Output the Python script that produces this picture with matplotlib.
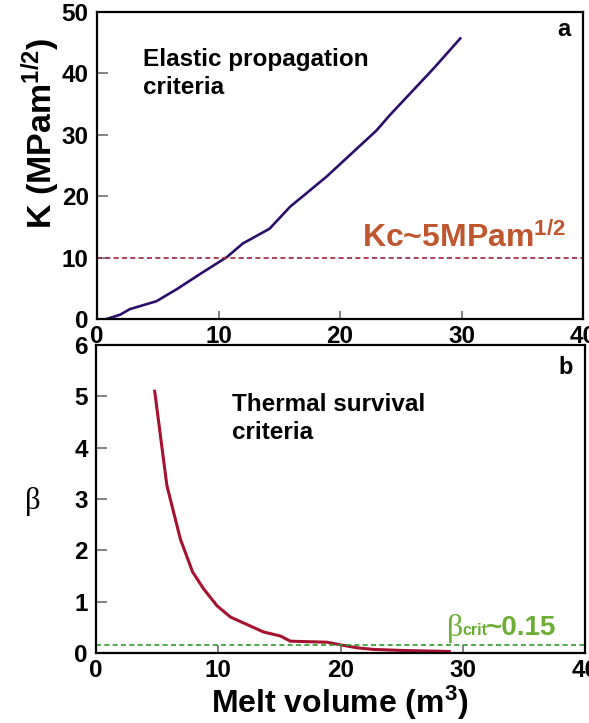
import matplotlib
matplotlib.use("Agg")
import matplotlib.pyplot as plt

plt.rcParams['font.family'] = ['Liberation Sans', 'DejaVu Sans']
plt.rcParams['font.weight'] = 'bold'
plt.rcParams['mathtext.fontset'] = 'custom'
plt.rcParams['mathtext.rm'] = 'Liberation Sans:bold'
plt.rcParams['mathtext.bf'] = 'Liberation Sans:bold'
plt.rcParams['mathtext.it'] = 'Liberation Sans:bold'
plt.rcParams['mathtext.default'] = 'bf'

# ---- data ----
k_x = [0.8, 1.9, 2.7, 4.9, 6.6, 8.7, 10.7, 12.0, 14.2, 15.9, 16.7, 18.9, 23.0, 24.1, 27.7, 29.9]
k_y = [0.0, 0.7, 1.6, 2.9, 4.9, 7.6, 10.1, 12.3, 14.7, 18.3, 19.6, 23.2, 30.7, 33.2, 40.8, 45.7]
kc_level = 10

beta_x = [4.8, 5.8, 6.9, 7.9, 8.8, 9.9, 11.0, 13.7, 15.1, 15.9, 18.9, 20.2, 21.4, 22.7, 25.0, 28.9]
beta_y = [5.1, 3.26, 2.22, 1.58, 1.25, 0.92, 0.70, 0.41, 0.33, 0.23, 0.21, 0.15, 0.10, 0.07, 0.05, 0.03]
beta_crit = 0.15

x_ticks = [0, 10, 20, 30, 40]
k_ticks = [0, 10, 20, 30, 40, 50]
beta_ticks = [0, 1, 2, 3, 4, 5, 6]

fig = plt.figure(figsize=(5.89, 7.23), dpi=100)
ax1 = fig.add_axes([97/589, 1-319/723, 486/589, 307/723])
ax2 = fig.add_axes([96/589, 1-653/723, 489/589, 308/723])

for ax in (ax1, ax2):
    for s in ax.spines.values():
        s.set_linewidth(1.6)
        s.set_color('black')
    ax.tick_params(axis='both', direction='in', labelsize=17.5, color='#6e6e6e', width=1.2)
    ax.tick_params(axis='y', length=8, pad=6)
    ax.tick_params(axis='x', length=6, pad=4)
    ax.set_xlim(0, 40)
    ax.set_xticks(x_ticks)
    for lab in ax.get_xticklabels() + ax.get_yticklabels():
        lab.set_fontweight('bold')

# top panel
ax1.plot(k_x, k_y, color='#2b0d6b', lw=1.9)
ax1.axhline(kc_level, color='#a0233a', lw=1.2, ls=(0, (3, 2)))
ax1.set_ylim(0, 50)
ax1.set_yticks(k_ticks)
ax1.text(3.8, 41.2, 'Elastic propagation', fontsize=17.5, fontweight='bold')
ax1.text(3.8, 36.6, 'criteria', fontsize=17.5, fontweight='bold')
ax1.text(37.9, 46.1, 'a', fontsize=17, fontweight='bold')
ax1.text(21.8, 11.8, 'Kc~5MPam$^{1/2}$', fontsize=23, fontweight='bold', color='#c0562e')

# bottom panel
ax2.plot(beta_x, beta_y, color='#a5122f', lw=2.2)
ax2.axhline(beta_crit, color='#2e9b2e', lw=1.2, ls=(0, (3, 2)))
ax2.set_ylim(0, 6)
ax2.set_yticks(beta_ticks)
ax2.text(11.1, 4.72, 'Thermal survival', fontsize=17.5, fontweight='bold')
ax2.text(11.1, 4.17, 'criteria', fontsize=17.5, fontweight='bold')
ax2.text(37.8, 5.44, 'b', fontsize=17, fontweight='bold')
ax2.text(28.7, 0.33, '\u03b2', fontsize=23, fontweight='normal', family='Liberation Serif', color='#6bae35')
ax2.text(30.0, 0.35, 'crit', fontsize=11.5, fontweight='bold', color='#6bae35')
ax2.text(31.9, 0.35, '~0.15', fontsize=20, fontweight='bold', color='#6bae35')

fig.text(41/589, 1-133/723, 'K (MPam$^{1/2}$)', rotation=90, ha='center', va='center',
         fontsize=24.5, fontweight='bold')
fig.text(33/589, 1-502/723, '\u03b2', ha='center', va='center', fontsize=22,
         family='Liberation Serif', fontweight='normal')
fig.text(340/589, 1-713/723, 'Melt volume (m$^{3}$)', ha='center', va='baseline',
         fontsize=23, fontweight='bold')

fig.savefig('out.png', dpi=100)
